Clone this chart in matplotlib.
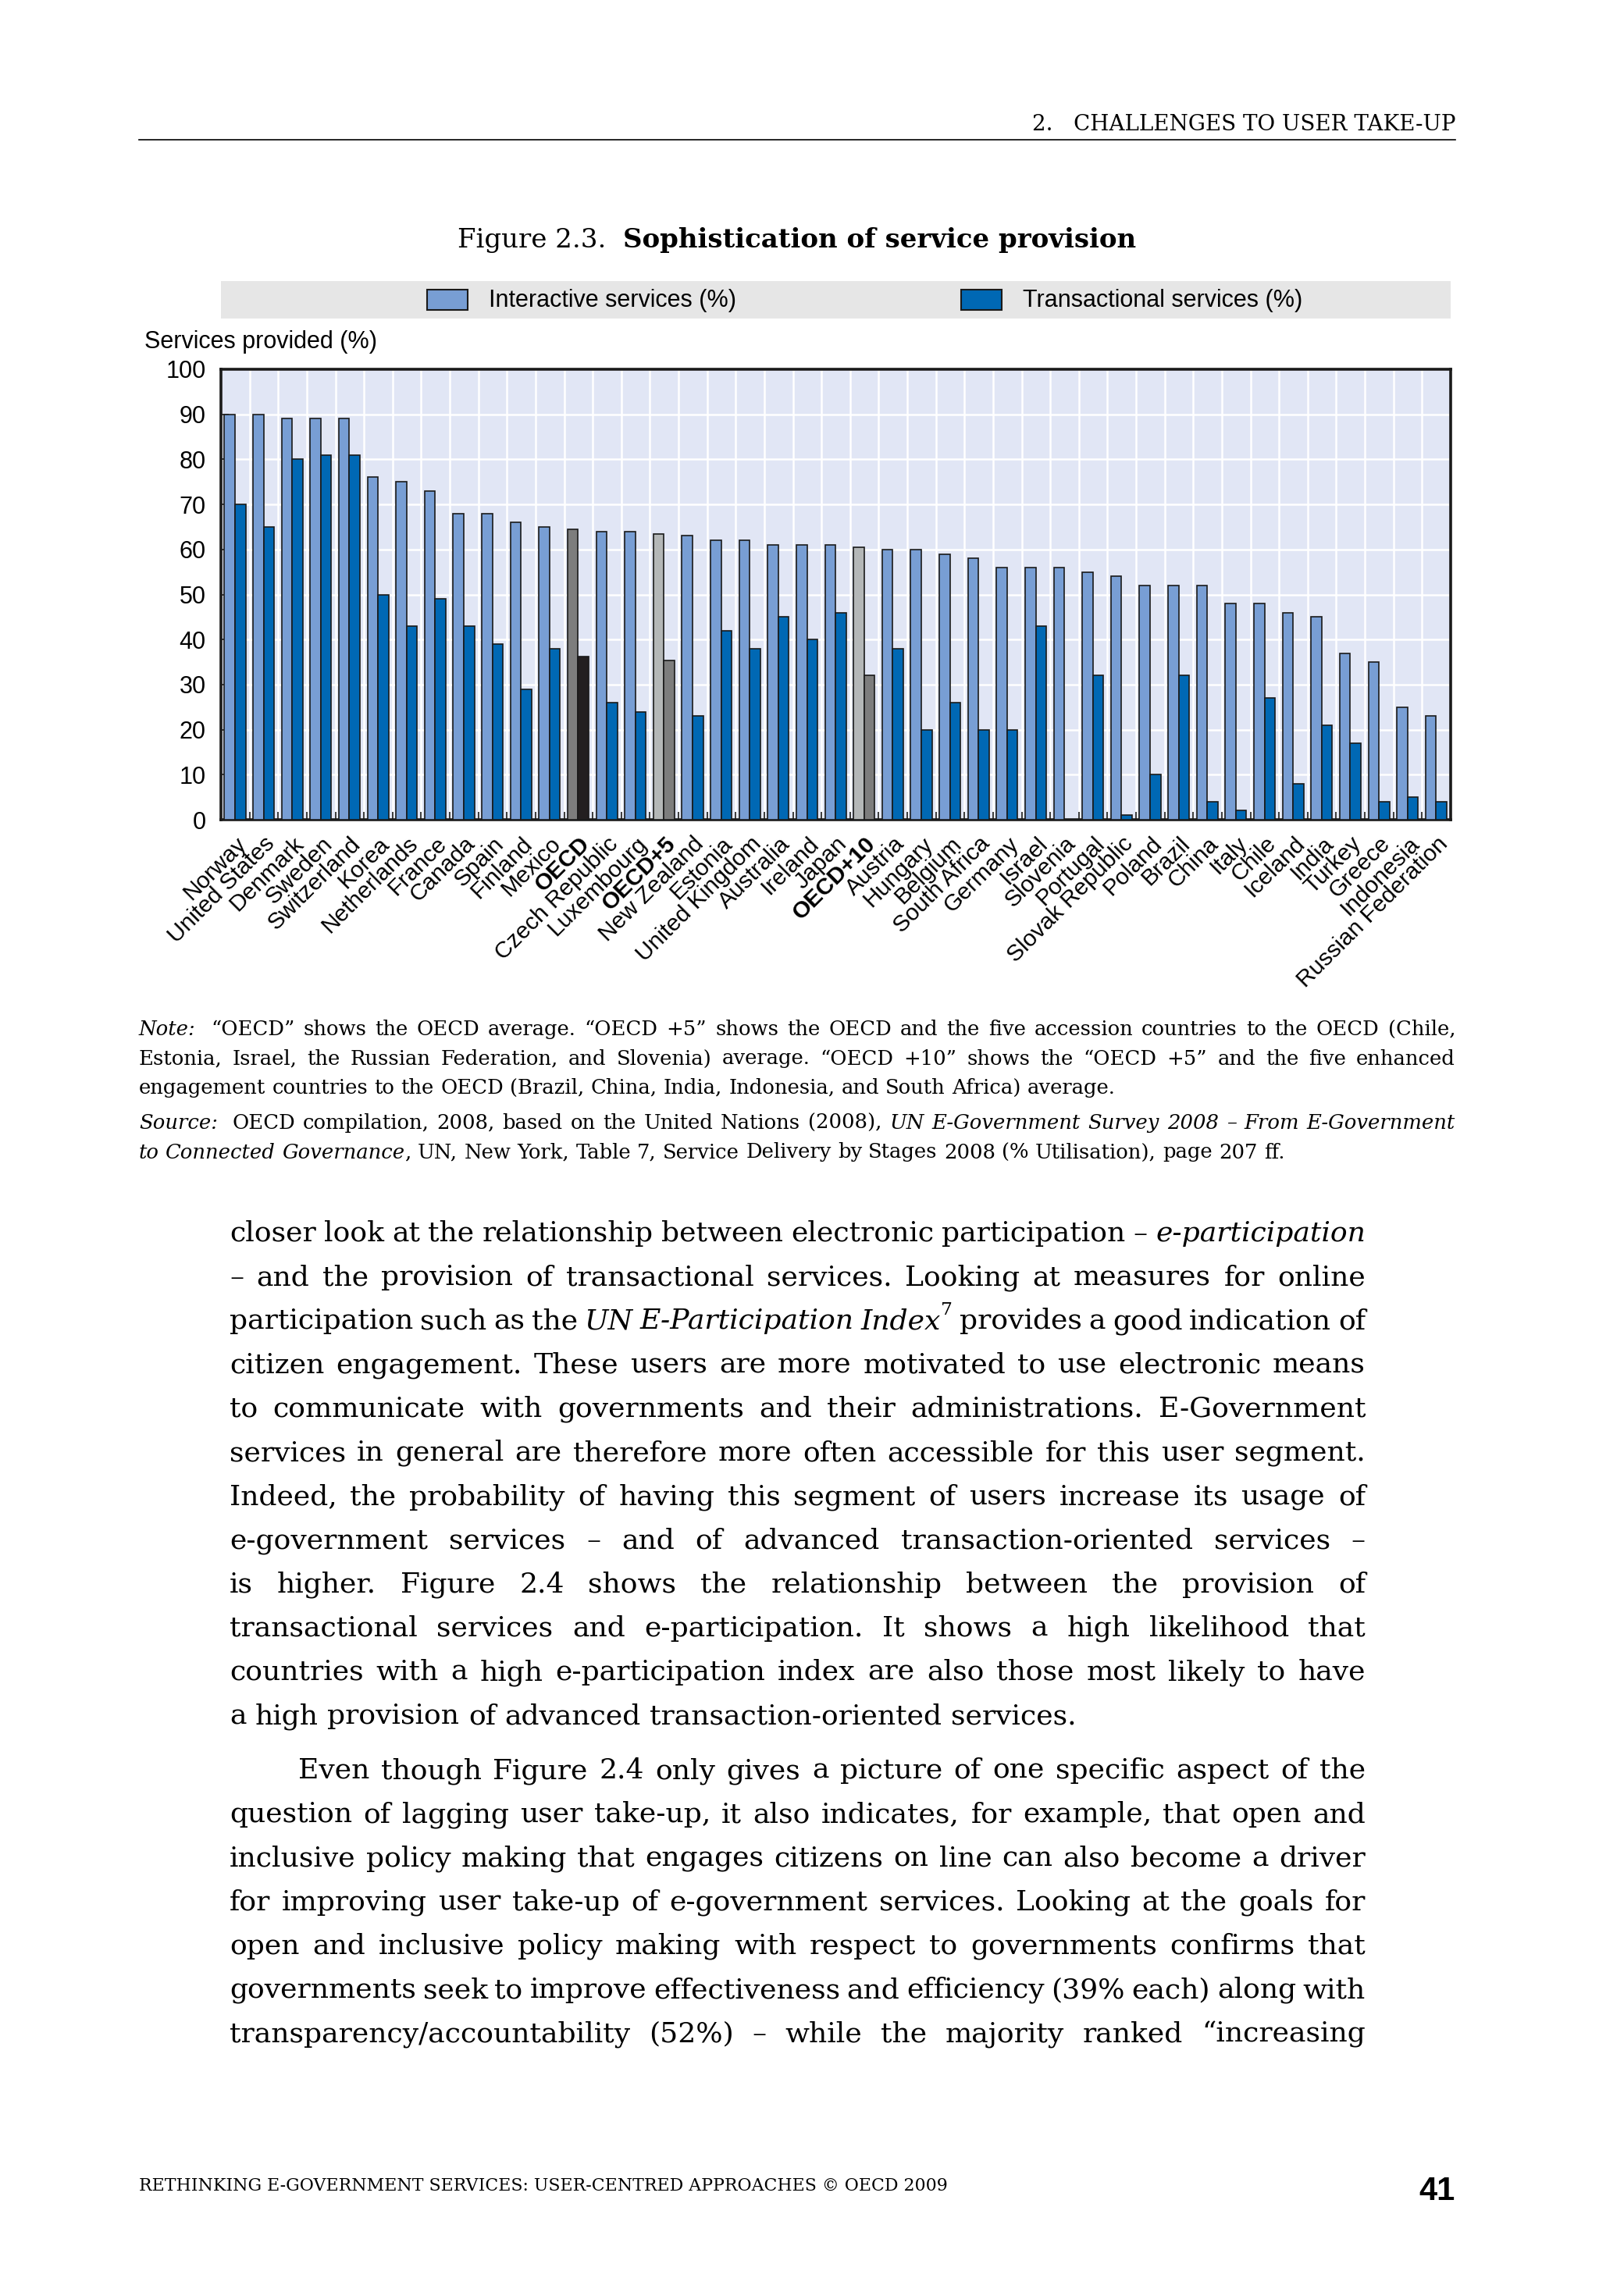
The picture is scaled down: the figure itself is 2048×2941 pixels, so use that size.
import matplotlib
matplotlib.use("Agg")
import matplotlib.pyplot as plt
from matplotlib.patches import Rectangle
from matplotlib.transforms import IdentityTransform
import numpy as np

# ---------------- data ----------------
countries = ["Norway", "United States", "Denmark", "Sweden", "Switzerland", "Korea",
             "Netherlands", "France", "Canada", "Spain", "Finland", "Mexico", "OECD",
             "Czech Republic", "Luxembourg", "OECD+5", "New Zealand", "Estonia",
             "United Kingdom", "Australia", "Ireland", "Japan", "OECD+10", "Austria",
             "Hungary", "Belgium", "South Africa", "Germany", "Israel", "Slovenia",
             "Portugal", "Slovak Republic", "Poland", "Brazil", "China", "Italy", "Chile",
             "Iceland", "India", "Turkey", "Greece", "Indonesia", "Russian Federation"]
interactive = [90, 90, 89, 89, 89, 76, 75, 73, 68, 68, 66, 65, 64.5, 64, 64, 63.5, 63,
               62, 62, 61, 61, 61, 60.4, 60, 60, 59, 58, 56, 56, 56, 55, 54, 52, 52, 52,
               48, 48, 46, 45, 37, 35, 25, 23]
transactional = [70, 65, 80, 81, 81, 50, 43, 49, 43, 39, 29, 38, 36.3, 26, 24, 35.3, 23,
                 42, 38, 45, 40, 46, 32.1, 38, 20, 26, 20, 20, 43, 0, 32, 1, 10, 32, 4,
                 2, 27, 8, 21, 17, 4, 5, 4]
aggregates = ["OECD", "OECD+5", "OECD+10"]
yticks = [0, 10, 20, 30, 40, 50, 60, 70, 80, 90, 100]
series_labels = ["Interactive services (%)", "Transactional services (%)"]

# ---------------- styling ----------------
C_INT = "#789ED4"
C_TRA = "#0068B4"
AGG_INT = {"OECD": "#7D7D7D", "OECD+5": "#B4B7B7", "OECD+10": "#B4B7B7"}
AGG_TRA = {"OECD": "#231F20", "OECD+5": "#7D7D7D", "OECD+10": "#7D7D7D"}
SANS = ["Liberation Sans Narrow", "Liberation Sans", "DejaVu Sans"]
SERIF = ["DejaVu Serif"]

W, H = 2048, 2941
fig = plt.figure(figsize=(W / 100, H / 100), dpi=100)
fig.patch.set_facecolor("white")
ID = IdentityTransform()

# ---------------- axes ----------------
L, R, T, B = 283, 1858, 473, 1050
ax = fig.add_axes([L / W, 1 - B / H, (R - L) / W, (B - T) / H])
ax.set_facecolor("#E1E6F5")
n = len(countries)
x = np.arange(n)
bw = 0.37
c_int = [AGG_INT.get(c, C_INT) for c in countries]
c_tra = [AGG_TRA.get(c, C_TRA) for c in countries]
ax.bar(x - bw / 2 - 0.01, interactive, width=bw, color=c_int, edgecolor="#1a1a1a",
       linewidth=1.2, zorder=3)
ax.bar(x + bw / 2 - 0.01, transactional, width=bw, color=c_tra, edgecolor="#1a1a1a",
       linewidth=1.2, zorder=3)
ax.set_xlim(-0.5, n - 0.5)
ax.set_ylim(0, 100)
ax.set_yticks(yticks)
ax.set_yticklabels([str(v) for v in yticks], fontsize=22, family=SANS)
ax.set_xticks(x)
ax.set_xticks(np.arange(n + 1) - 0.5, minor=True)
ax.set_xticklabels(countries, rotation=45, ha="right", rotation_mode="anchor",
                   fontsize=21.5, family=SANS)
for lab in ax.get_xticklabels():
    if lab.get_text() in aggregates:
        lab.set_fontweight("bold")
ax.tick_params(axis="x", which="major", length=0, pad=12)
ax.tick_params(axis="x", which="minor", direction="in", length=7, width=1.2,
               color="#1a1a1a", bottom=True)
ax.tick_params(axis="y", which="major", direction="in", length=7, width=1.2,
               color="#1a1a1a", pad=14)
ax.grid(axis="y", which="major", color="white", linewidth=1.8, zorder=1)
ax.grid(axis="x", which="minor", color="white", linewidth=1.8, zorder=1)
ax.set_axisbelow(True)
for s in ax.spines.values():
    s.set_linewidth(2.6)
    s.set_color("#1a1a1a")

# ---------------- legend band ----------------
fig.patches.append(Rectangle((L, H - 408), R - L, 48, transform=ID,
                             facecolor="#E6E6E6", edgecolor="none"))
for px, col, lab in [(547, C_INT, series_labels[0]), (1231, C_TRA, series_labels[1])]:
    fig.patches.append(Rectangle((px, H - 397), 52, 26, transform=ID,
                                 facecolor=col, edgecolor="#1a1a1a", linewidth=1.5))
    fig.text(px + 79, H - 385, lab, transform=ID, fontsize=22, family=SANS,
             va="center", ha="left")
fig.text(185, H - 438, "Services provided (%)", transform=ID, fontsize=22,
         family=SANS, va="center", ha="left")

renderer = fig.canvas.get_renderer()

# ---------------- header / title ----------------
fig.text(1864, H - 167, "2.   CHALLENGES TO USER TAKE-UP", transform=ID, fontsize=20,
         family=SERIF, ha="right", va="baseline")
fig.lines.append(plt.Line2D([178, 1864], [H - 179, H - 179], transform=ID,
                            color="black", linewidth=1.2))
t1 = fig.text(0, 0, "Figure 2.3.  ", transform=ID, fontsize=24.5, family=SERIF,
              va="baseline")
t2 = fig.text(0, 0, "Sophistication of service provision", transform=ID, fontsize=24.5,
              family=SERIF, weight="bold", va="baseline")
w1 = t1.get_window_extent(renderer).width
w2 = t2.get_window_extent(renderer).width
x0 = 1021 - (w1 + w2) / 2
t1.set_position((x0, H - 317))
t2.set_position((x0 + w1, H - 317))


# ---------------- justified text helper ----------------
def parse(line):
    words = []
    ital = False
    for raw in line.split(" "):
        if raw == "":
            if words:
                words[-1].append(("", "gap"))
            continue
        parts = []
        cur = ""
        sup = False
        for ch in raw:
            if ch == "_":
                if cur:
                    parts.append((cur, "sup" if sup else ("i" if ital else "n")))
                cur = ""
                ital = not ital
            elif ch == "^":
                if cur:
                    parts.append((cur, "i" if ital else "n"))
                cur = ""
                sup = True
            else:
                cur += ch
        if cur:
            parts.append((cur, "sup" if sup else ("i" if ital else "n")))
        words.append(parts)
    return words


def space_width(size):
    a = fig.text(0, 0, "n n", fontsize=size, family=SERIF, transform=ID)
    b = fig.text(0, 0, "nn", fontsize=size, family=SERIF, transform=ID)
    w = a.get_window_extent(renderer).width - b.get_window_extent(renderer).width
    a.remove()
    b.remove()
    return w


def draw_line(line, x0, x1, ybase, size, justify):
    words = parse(line)
    sw = space_width(size)
    objs, widths = [], []
    for word in words:
        parts, w = [], 0.0
        for txt, st in word:
            if st == "gap":
                w += sw
                continue
            kw = dict(fontsize=size, family=SERIF)
            dy = 0
            if st == "i":
                kw["style"] = "italic"
            if st == "sup":
                kw["fontsize"] = size * 0.65
                dy = size * 0.5 * 100 / 72
            t = fig.text(0, 0, txt, transform=ID, va="baseline", ha="left", **kw)
            tw = t.get_window_extent(renderer).width
            parts.append((t, w, dy))
            w += tw
        objs.append(parts)
        widths.append(w)
    if justify and len(words) > 1:
        gap = (x1 - x0 - sum(widths)) / (len(words) - 1)
        gap = max(gap, sw * 0.6)
    else:
        gap = sw
    xx = x0
    for parts, w in zip(objs, widths):
        for t, off, dy in parts:
            t.set_position((xx + off, H - ybase + dy))
        xx += w + gap


# ---------------- notes ----------------
note_lines = [
    "_Note:_  “OECD” shows the OECD average. “OECD +5” shows the OECD and the five accession countries to the OECD (Chile,",
    "Estonia, Israel, the Russian Federation, and Slovenia) average. “OECD +10” shows the “OECD +5” and the five enhanced",
    "engagement countries to the OECD (Brazil, China, India, Indonesia, and South Africa) average.",
]
source_lines = [
    "_Source:_  OECD compilation, 2008, based on the United Nations (2008), _UN E-Government Survey 2008 – From E-Government_",
    "_to Connected Governance_, UN, New York, Table 7, Service Delivery by Stages 2008 (% Utilisation), page 207 ff.",
]
NS = 18.6
for i, ln in enumerate(note_lines):
    draw_line(ln, 178, 1864, 1326 + i * 37.5, NS, i < len(note_lines) - 1)
for i, ln in enumerate(source_lines):
    draw_line(ln, 178, 1864, 1446 + i * 37.5, NS, i < len(source_lines) - 1)

# ---------------- body text ----------------
para1 = [
    "closer look at the relationship between electronic participation – _e-participation_",
    "– and the provision of transactional services. Looking at measures for online",
    "participation such as the _UN E-Participation Index_^7 provides a good indication of",
    "citizen engagement. These users are more motivated to use electronic means",
    "to communicate with governments and their administrations. E-Government",
    "services in general are therefore more often accessible for this user segment.",
    "Indeed, the probability of having this segment of users increase its usage of",
    "e-government services – and of advanced transaction-oriented services –",
    "is higher. Figure 2.4 shows the relationship between the provision of",
    "transactional services and e-participation. It shows a high likelihood that",
    "countries with a high e-participation index are also those most likely to have",
    "a high provision of advanced transaction-oriented services.",
]
para2 = [
    "Even though Figure 2.4 only gives a picture of one specific aspect of the",
    "question of lagging user take-up, it also indicates, for example, that open and",
    "inclusive policy making that engages citizens on line can also become a driver",
    "for improving user take-up of e-government services. Looking at the goals for",
    "open and inclusive policy making with respect to governments confirms that",
    "governments seek to improve effectiveness and efficiency (39% each) along with",
    "transparency/accountability (52%) – while the majority ranked “increasing",
]
BS = 26
for i, ln in enumerate(para1):
    draw_line(ln, 294, 1749, 1590 + i * 56.2, BS, i < len(para1) - 1)
for i, ln in enumerate(para2):
    draw_line(ln, 382 if i == 0 else 294, 1749, 2278 + i * 56.2, BS, True)

# ---------------- footer ----------------
fig.text(178, H - 2806, "RETHINKING E-GOVERNMENT SERVICES: USER-CENTRED APPROACHES © OECD 2009",
         transform=ID, fontsize=15.8, family=SERIF, va="baseline", ha="left")
fig.text(1864, H - 2818, "41", transform=ID, fontsize=30,
         family=["Liberation Sans", "DejaVu Sans"],
         weight="bold", va="baseline", ha="right")

fig.savefig("out.png", dpi=100, facecolor="white")
